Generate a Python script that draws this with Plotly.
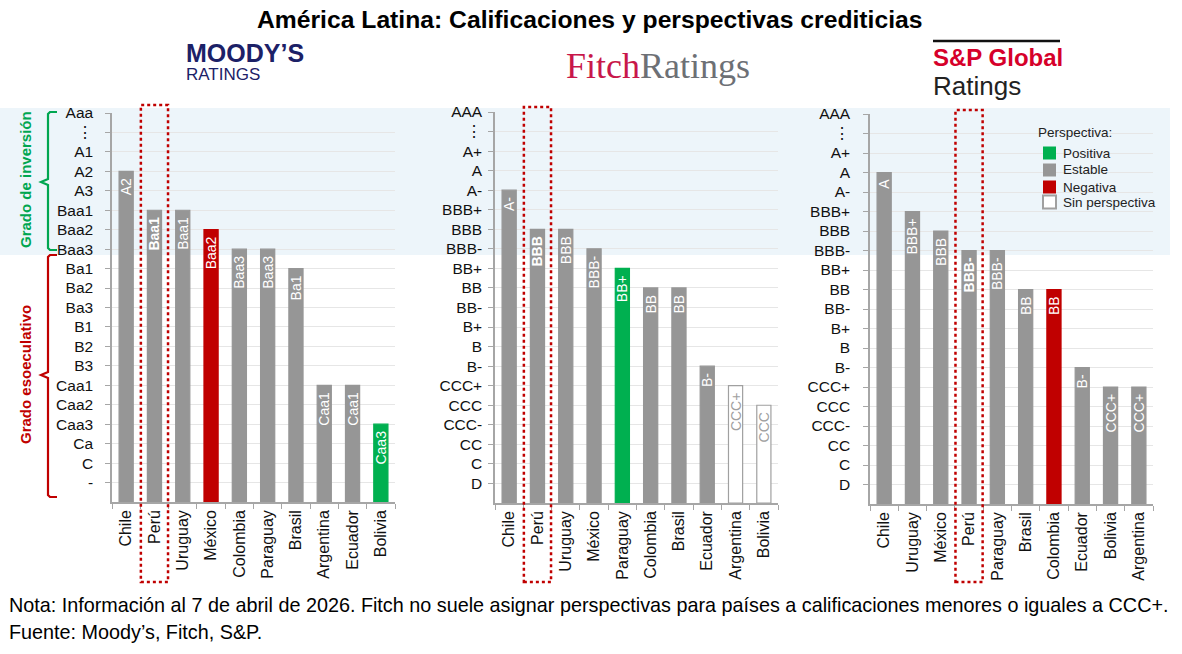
import plotly.graph_objects as go

# ---------------- data ----------------
moodys_countries = ["Chile", "Perú", "Uruguay", "México", "Colombia", "Paraguay", "Brasil", "Argentina", "Ecuador", "Bolivia"]
moodys_ratings = ["A2", "Baa1", "Baa1", "Baa2", "Baa3", "Baa3", "Ba1", "Caa1", "Caa1", "Caa3"]
moodys_outlook = ["Estable", "Estable", "Estable", "Negativa", "Estable", "Estable", "Estable", "Estable", "Estable", "Positiva"]
moodys_scale = ["-", "C", "Ca", "Caa3", "Caa2", "Caa1", "B3", "B2", "B1", "Ba3", "Ba2", "Ba1",
                "Baa3", "Baa2", "Baa1", "A3", "A2", "A1", "⋮", "Aaa"]

fitch_countries = ["Chile", "Perú", "Uruguay", "México", "Paraguay", "Colombia", "Brasil", "Ecuador", "Argentina", "Bolivia"]
fitch_ratings = ["A-", "BBB", "BBB", "BBB-", "BB+", "BB", "BB", "B-", "CCC+", "CCC"]
fitch_outlook = ["Estable", "Estable", "Estable", "Estable", "Positiva", "Estable", "Estable", "Estable",
                 "Sin perspectiva", "Sin perspectiva"]
sp_countries = ["Chile", "Uruguay", "México", "Perú", "Paraguay", "Brasil", "Colombia", "Ecuador", "Bolivia", "Argentina"]
sp_ratings = ["A", "BBB+", "BBB", "BBB-", "BBB-", "BB", "BB", "B-", "CCC+", "CCC+"]
sp_outlook = ["Estable", "Estable", "Estable", "Estable", "Estable", "Estable", "Negativa", "Estable", "Estable", "Estable"]
fs_scale = ["D", "C", "CC", "CCC-", "CCC", "CCC+", "B-", "B", "B+", "BB-", "BB", "BB+",
            "BBB-", "BBB", "BBB+", "A-", "A", "A+", "⋮", "AAA"]

legend_items = ["Positiva", "Estable", "Negativa", "Sin perspectiva"]

# ---------------- styles ----------------
W, H = 1182, 654
FILL = {"Positiva": "#00b050", "Estable": "#969696", "Negativa": "#c00000", "Sin perspectiva": "#ffffff"}
EDGE = {"Positiva": "#00b050", "Estable": "#969696", "Negativa": "#c00000", "Sin perspectiva": "#a0a0a0"}
TXT = {"Positiva": "#ffffff", "Estable": "#ffffff", "Negativa": "#ffffff", "Sin perspectiva": "#a0a0a0"}
SANS = "Liberation Sans, Arial, sans-serif"


def px(x):
    return x / W


def py(y):
    return 1 - y / H


def note(text, x, y, size, color="#000000", xanchor="center", family=SANS, **kw):
    return dict(text=text, x=px(x), y=py(y), xref="paper", yref="paper", xanchor=xanchor,
                yanchor="middle", showarrow=False, font=dict(family=family, size=size, color=color), **kw)


fig = go.Figure()

panels = [
    # countries, ratings, outlook, scale, x0,x1 (px), y bottom, y top(level 20), standoff, box top
    (moodys_countries, moodys_ratings, moodys_outlook, moodys_scale, 112, 395, 502, 113, 9, 105),
    (fitch_countries, fitch_ratings, fitch_outlook, fs_scale, 495, 778, 503, 112, 3, 107),
    (sp_countries, sp_ratings, sp_outlook, fs_scale, 870, 1153, 504, 114, 10, 110),
]

shapes = []
annotations = []

# light blue investment-grade band
shapes.append(dict(type="rect", xref="paper", yref="paper", x0=px(0), x1=px(1170), y0=py(255), y1=py(108),
                   fillcolor="#edf5fa", line=dict(width=0), layer="below"))

NB = "\u00a0"
for i, (cty, rat, outl, scale, x0, x1, yb, yt, standoff, boxtop) in enumerate(panels):
    n = i + 1
    xa = "x" if n == 1 else f"x{n}"
    ya = "y" if n == 1 else f"y{n}"
    vals = [scale.index(r) + 1 for r in rat]
    texts = [(f"<b>{r}</b>" if c == "Perú" else r) + NB for c, r in zip(cty, rat)]
    fig.add_trace(go.Bar(
        x=cty, y=vals, xaxis=xa, yaxis=ya, width=0.5,
        marker=dict(color=[FILL[o] for o in outl], line=dict(color=[EDGE[o] for o in outl], width=1.2)),
        text=texts, textposition="inside", insidetextanchor="end", textangle=-90,
        textfont=dict(family=SANS, size=14, color=[TXT[o] for o in outl]),
        constraintext="none", cliponaxis=False, showlegend=False, hoverinfo="skip",
    ))
    lay_x = dict(domain=[px(x0), px(x1)], anchor=ya, type="category", tickson="boundaries",
                 ticks="outside", ticklen=5, tickcolor="#a6a6a6", tickwidth=1,
                 showline=True, linecolor="#a6a6a6", linewidth=1.5, tickangle=-90,
                 tickfont=dict(family=SANS, size=16, color="#111111"), showgrid=False,
                 range=[-0.5, len(cty) - 0.5], fixedrange=True, automargin=False)
    lay_y = dict(domain=[py(yb), py(yt)], anchor=xa, range=[0, 20], tickmode="array",
                 tickvals=list(range(1, 21)), ticktext=scale, ticks="outside", ticklen=5,
                 tickcolor="#a6a6a6", showline=True, linecolor="#a6a6a6", linewidth=1.5,
                 showgrid=True, gridcolor="#e6e6e6", gridwidth=1, zeroline=False,
                 tickfont=dict(family=SANS, size=15.5, color="#111111"), ticklabelstandoff=standoff,
                 fixedrange=True, automargin=False)
    fig.update_layout(**{("xaxis" if n == 1 else f"xaxis{n}"): lay_x,
                         ("yaxis" if n == 1 else f"yaxis{n}"): lay_y})
    # dotted highlight around Perú
    k = cty.index("Perú")
    shapes.append(dict(type="rect", xref=xa, yref="paper", x0=k - 0.48, x1=k + 0.48,
                       y0=py(582), y1=py(boxtop), line=dict(color="#c00000", width=2.5, dash="dot"),
                       fillcolor="rgba(0,0,0,0)", layer="above"))


# brackets
def brace(ytop, ybot, ymid, color):
    pts = (f"M {px(57)},{py(ytop)} L {px(50)},{py(ytop)} L {px(48)},{py(ytop + 2)} "
           f"L {px(48)},{py(ymid - 3)} L {px(41)},{py(ymid)} L {px(48)},{py(ymid + 3)} "
           f"L {px(48)},{py(ybot - 2)} L {px(50)},{py(ybot)} L {px(57)},{py(ybot)}")
    return dict(type="path", xref="paper", yref="paper", path=pts, line=dict(color=color, width=2.2))


shapes.append(brace(112, 250, 182, "#00a650"))
shapes.append(brace(255, 497, 375, "#c00000"))
annotations.append(note("<b>Grado de inversión</b>", 25, 180, 15, "#00a650", textangle=-90))
annotations.append(note("<b>Grado esoeculativo</b>", 25, 375, 15, "#c00000", textangle=-90))

# title
annotations.append(note("<b>América Latina: Calificaciones y perspectivas crediticias</b>", 590, 19, 24.7))

# logos
annotations.append(note("<b>MOODY’S</b>", 184, 53, 25, "#1c2167", xanchor="left"))
annotations.append(note("RATINGS", 184, 74, 17, "#1c2167", xanchor="left"))
annotations.append(note('<span style="color:#c8174a">Fitch</span><span style="color:#6d7075">Ratings</span>',
                        658, 66, 36, family="Liberation Serif, Times New Roman, serif"))
shapes.append(dict(type="line", xref="paper", yref="paper", x0=px(933), x1=px(1060), y0=py(41), y1=py(41),
                   line=dict(color="#111111", width=2.5)))
annotations.append(note("<b>S&P Global</b>", 931, 57, 24, "#d6002a", xanchor="left"))
annotations.append(note("Ratings", 931, 86, 26, "#222222", xanchor="left"))

# legend
annotations.append(note("Perspectiva:", 1036, 132, 13.5, "#222222", xanchor="left"))
leg_y = [153, 170, 187, 202]
for name, yy in zip(legend_items, leg_y):
    shapes.append(dict(type="rect", xref="paper", yref="paper", x0=px(1043), x1=px(1056),
                       y0=py(yy + 6.5), y1=py(yy - 6.5), fillcolor=FILL[name],
                       line=dict(color=EDGE[name], width=2 if name == "Sin perspectiva" else 0)))
    annotations.append(note(name, 1061, yy, 13.5, "#222222", xanchor="left"))

# footer
annotations.append(note("Nota: Información al 7 de abril de 2026. Fitch no suele asignar perspectivas para países a calificaciones menores o iguales a CCC+.",
                        7, 605, 19.8, xanchor="left"))
annotations.append(note("Fuente: Moody’s, Fitch, S&P.", 7, 632, 19.8, xanchor="left"))

fig.update_layout(template="none", width=W, height=H, margin=dict(l=0, r=0, t=0, b=0),
                  paper_bgcolor="#ffffff", plot_bgcolor="rgba(0,0,0,0)",
                  shapes=shapes, annotations=annotations, bargap=0.5, showlegend=False)

fig.write_html("out.html")
